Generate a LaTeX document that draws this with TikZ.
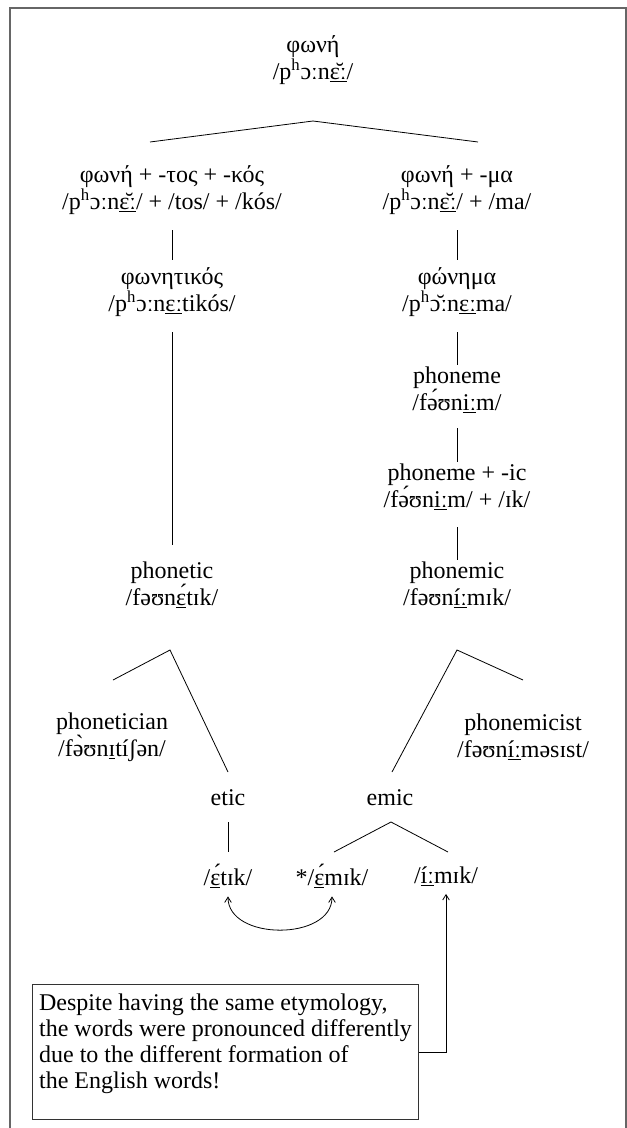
\documentclass[tikz,border=0pt]{standalone}
\usepackage{fontspec}
\setmainfont{Liberation Serif}
\usetikzlibrary{arrows.meta}
\begin{document}
\begin{tikzpicture}[x=0.75pt,y=-0.75pt,
  word/.style={align=center, inner sep=0pt, font=\fontsize{18}{20}\selectfont},
  branch/.style={line width=0.6pt},
  link/.style={line width=0.6pt, -{Straight Barb[length=4pt,width=5pt]}},
  frame/.style={draw=black!60, line width=1.1pt},
  notebox/.style={draw=black!80, line width=0.7pt, align=left, inner xsep=5pt,
    inner ysep=7pt, font=\fontsize{18}{19.5}\selectfont}]
\useasboundingbox (0,0) rectangle (627,1128);
% outer frame (open at the bottom)
\draw[frame] (10,1140) -- (10,8) -- (626,8) -- (626,1140);

% Greek source and its derivatives
\node[word] (top)   at (313,60)  {φωνή\\/p\textsuperscript{h}ɔːn\underline{ɛ̆ː}/};
\node[word] (gkadj) at (172,190) {φωνή + -τος + -κός\\/p\textsuperscript{h}ɔːn\underline{ɛ̆ː}/ + /tos/ + /kós/};
\node[word] (gkn)   at (457,190) {φωνή + -μα\\/p\textsuperscript{h}ɔːn\underline{ɛ̆ː}/ + /ma/};
\node[word] (phonetikos) at (172,292) {φωνητικός\\/p\textsuperscript{h}ɔːn\underline{ɛː}tikós/};
\node[word] (phonema)    at (457,292) {φώνημα\\/p\textsuperscript{h}ɔ̆ːn\underline{ɛː}ma/};

% English words
\node[word] (phoneme)   at (457,390) {phoneme\\/fə́ʊn\underline{iː}m/};
\node[word] (phonemeic) at (457,487) {phoneme + -ic\\/fə́ʊn\underline{iː}m/ + /ɪk/};
\node[word] (phonetic)  at (172,585) {phonetic\\/fəʊn\underline{ɛ́}tɪk/};
\node[word] (phonemic)  at (457,585) {phonemic\\/fəʊn\underline{íː}mɪk/};
\node[word] (phonetician)  at (112,737) {phonetician\\/fə̀ʊn\underline{ɪ}tíʃən/};
\node[word] (phonemicist)  at (523,737) {phonemicist\\/fəʊn\underline{íː}məsɪst/};
\node[word] (etic) at (228,798) {etic};
\node[word] (emic) at (390,798) {emic};
\node[word] (eticp)  at (228,876) {/\underline{ɛ́}tɪk/};
\node[word] (emicp)  at (332,876) {*/\underline{ɛ́}mɪk/};
\node[word] (emicpp) at (446,876) {/\underline{íː}mɪk/};

\node[notebox, anchor=north west] (note) at (32,984)
  {Despite having the same etymology,\\the words were pronounced differently\\due to the different formation of\\the English words!\rule[-16pt]{0pt}{1pt}};

% tree branches
\coordinate (topfork) at (313,121);
\draw[branch] (150,142) -- (topfork) -- (478,142);
\draw[branch] (172,230) -- (172,260);
\draw[branch] (457,230) -- (457,260);
\draw[branch] (172,332) -- (172,545);
\draw[branch] (457,332) -- (457,365);
\draw[branch] (457,428) -- (457,462);
\draw[branch] (457,527) -- (457,560);
\coordinate (ticfork) at (170,650);
\draw[branch] (113,680) -- (ticfork) -- (228,772);
\coordinate (micfork) at (457,650);
\draw[branch] (523,680) -- (micfork) -- (392,772);
\draw[branch] (228,822) -- (228,852);
\coordinate (emicfork) at (391,822);
\draw[branch] (334,852) -- (emicfork) -- (448,852);

% pronunciation links
\draw[link, {Straight Barb[length=4pt,width=5pt]}-{Straight Barb[length=4pt,width=5pt]}]
  ([yshift=-6pt]eticp.south) to[out=-90,in=-90,looseness=1.1] ([yshift=-6pt]emicp.south);
\coordinate (bend) at (446,1052);
\draw[link] (note.east |- bend) -- (bend) -- ([yshift=-6pt]emicpp.south);
\end{tikzpicture}
\end{document}
